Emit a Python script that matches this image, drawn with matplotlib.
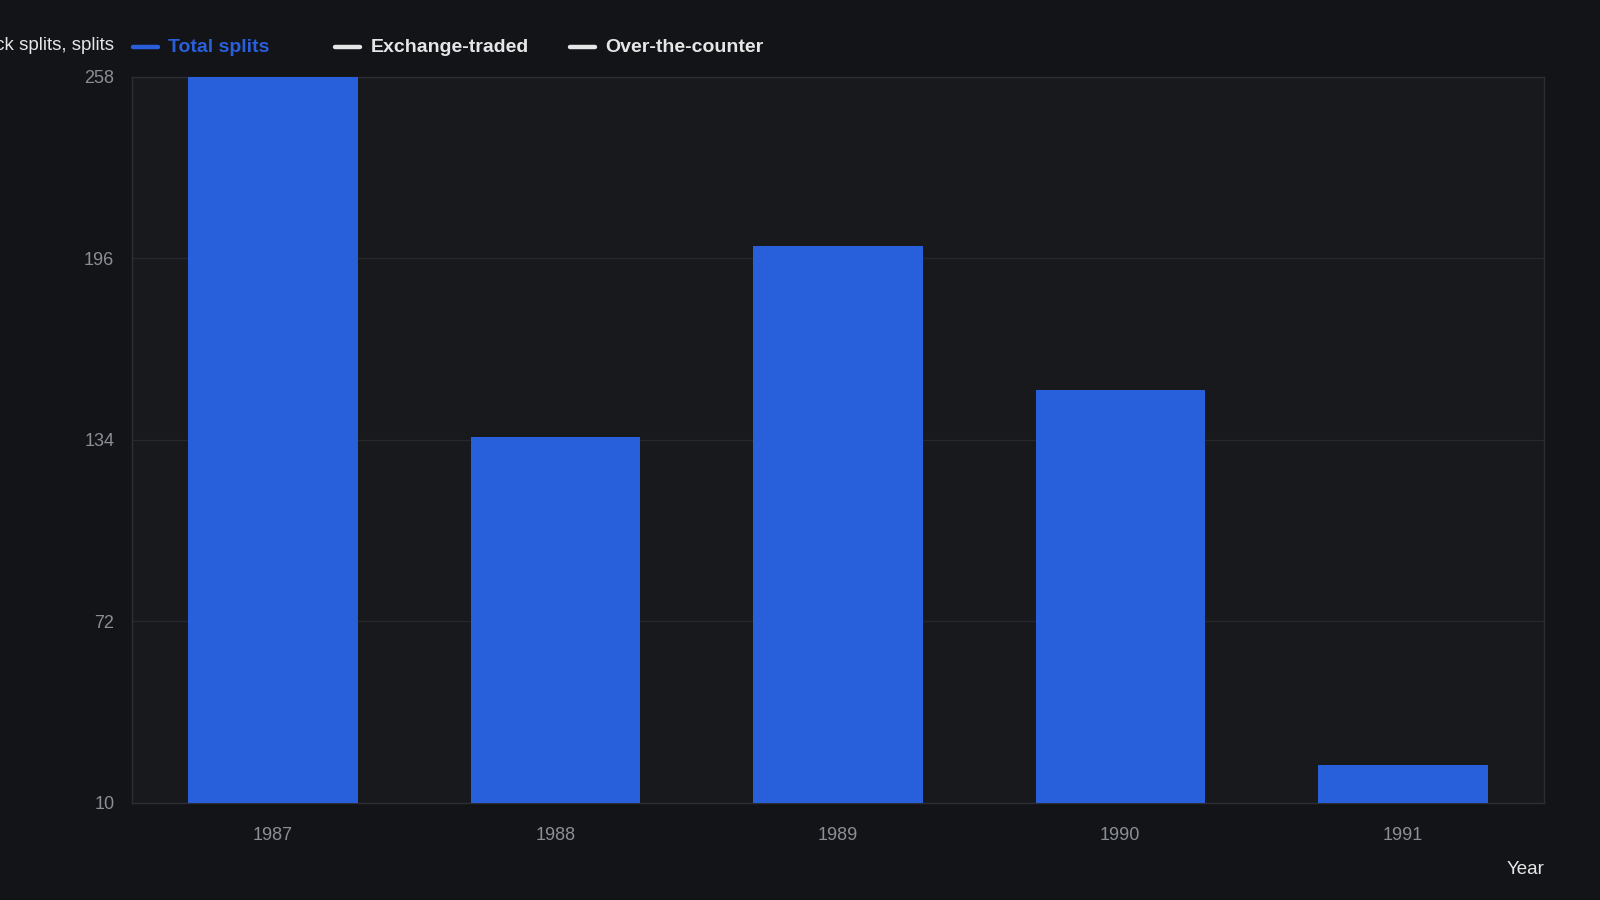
import matplotlib.pyplot as plt
from matplotlib.lines import Line2D

# data
years = ['1987', '1988', '1989', '1990', '1991']
total_splits = [258, 135, 200, 151, 23]
y_ticks = [10, 72, 134, 196, 258]

legend_names = ['Total splits', 'Exchange-traded', 'Over-the-counter']
legend_colors = ['#2a5fdc', '#e6e6e6', '#e6e6e6']

bg = '#121418'
face = '#17191d'
bar_color = '#2860dc'
tick_gray = '#8b8e94'

plt.rcParams['font.family'] = ['Liberation Sans', 'DejaVu Sans']

fig = plt.figure(figsize=(16, 9), dpi=100, facecolor=bg)
ax = fig.add_axes([0.0823, 0.1078, 0.965 - 0.0823, 0.915 - 0.1078])
ax.set_facecolor(face)

x = list(range(len(years)))
ax.bar(x, total_splits, width=0.6, color=bar_color, zorder=3)

ax.set_xlim(-0.5, len(years) - 0.5)
ax.set_ylim(y_ticks[0], y_ticks[-1])
ax.set_xticks(x)
ax.set_xticklabels(years)
ax.set_yticks(y_ticks)
ax.tick_params(axis='both', length=0, labelsize=13, labelcolor=tick_gray)
ax.tick_params(axis='y', pad=12.5)
ax.tick_params(axis='x', pad=17.5)
ax.grid(axis='y', color='#26282d', linewidth=1, zorder=0)
for s in ax.spines.values():
    s.set_color('#2c2e33')
    s.set_linewidth(1)

# axis titles (y title runs off the left edge, as in the reference)
fig.text(114 / 1600, 1 - 46 / 900, 'Stock splits, splits', ha='right', va='center',
         fontsize=13.5, color='#e6e6e6')
fig.text(1544 / 1600, 1 - 869 / 900, 'Year', ha='right', va='center',
         fontsize=13.5, color='#e6e6e6')

# legend drawn by hand to match spacing
handle_x = [132.5, 334.5, 569.5]
text_x = [168.4, 370.4, 605.1]
ly = 1 - 47 / 900
for hx, tx, name, col in zip(handle_x, text_x, legend_names, legend_colors):
    fig.add_artist(Line2D([hx / 1600, (hx + 25) / 1600], [ly, ly], color=col,
                          linewidth=3.2, solid_capstyle='round',
                          transform=fig.transFigure))
    fig.text(tx / 1600, ly - 1 / 900, name, ha='left', va='center', fontsize=14,
             fontweight='bold', color=col)

fig.savefig('out.png', dpi=100, facecolor=bg)
